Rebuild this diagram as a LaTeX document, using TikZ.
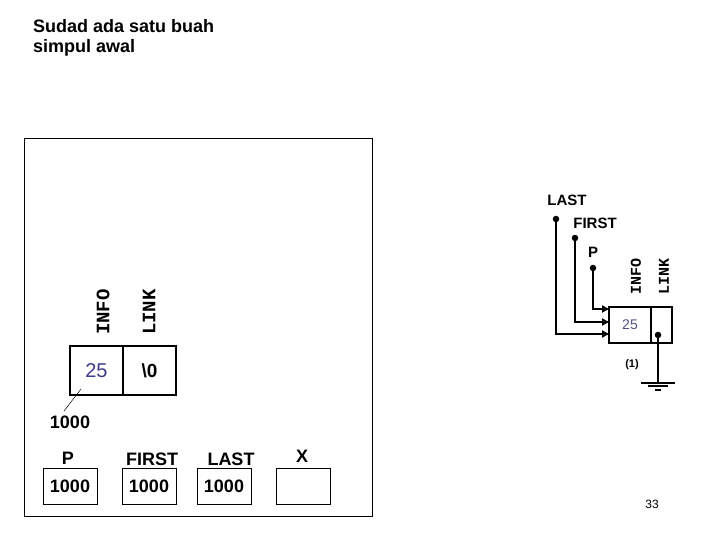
\documentclass[tikz,border=0pt]{standalone}
\usepackage{fontspec}
\setmainfont{Liberation Sans}
\newfontfamily\monofont{Liberation Mono}
\usetikzlibrary{arrows.meta}
\definecolor{infoblue}{RGB}{60,60,140}
\begin{document}
\begin{tikzpicture}[x=1pt,y=-1pt,
  cell/.style={draw,line width=2pt,minimum height=49pt,minimum width=53pt,inner sep=0pt},
  rcell/.style={draw,line width=2pt,minimum height=36pt,inner sep=0pt},
  vbox/.style={draw,line width=1pt,minimum height=36pt,minimum width=54pt,inner sep=0pt,font=\bfseries\fontsize{18}{18}\selectfont},
  blab/.style={font=\bfseries\fontsize{18}{18}\selectfont,anchor=base},
  vlab/.style={rotate=90,font=\monofont\bfseries\fontsize{19}{19}\selectfont,inner sep=0pt,anchor=west},
  rvlab/.style={rotate=90,font=\monofont\bfseries\fontsize{15}{15}\selectfont,inner sep=0pt,anchor=west},
  rlab/.style={font=\bfseries\fontsize{15}{15}\selectfont,anchor=base},
  dot/.style={circle,fill,inner sep=0pt,minimum size=6.5pt},
  conn/.style={line width=2.2pt},
  arr/.style={line width=2.2pt,-{Triangle[length=7pt,width=7pt]}}]
\useasboundingbox (0,0) rectangle (720,540);
% title
\node[anchor=base west,inner sep=0pt,font=\bfseries\fontsize{18}{18}\selectfont] (t1) at (33,33) {Sudad ada satu buah};
\node[anchor=base west,inner sep=0pt,font=\bfseries\fontsize{18}{18}\selectfont] (t2) at (33,53) {simpul awal};
% frame
\node[draw,line width=0.8pt,minimum width=348pt,minimum height=378pt,inner sep=0pt] (frame) at (198,327) {};
% left node
\node[cell,font=\fontsize{20}{20}\selectfont,text=infoblue] (info1) at (96.5,370.5) {25};
\node[cell,font=\bfseries\fontsize{19}{19}\selectfont] (link1) at (149.5,370.5) {\textbackslash 0};
\node[vlab] (linfo) at (103,335) {INFO};
\node[vlab] (llink) at (149,335) {LINK};
\node[blab] (addr) at (70,428) {1000};
\coordinate (ls) at (81,389);
\coordinate (le) at (64,411);
\draw[line width=0.5pt] (ls) -- (le);
% bottom variables
\node[vbox] (vP) at (70,486) {1000};
\node[vbox] (vF) at (149,486) {1000};
\node[vbox] (vL) at (224,486) {1000};
\node[vbox] (vX) at (303,486) {};
\node[blab] (lP) at (68,464) {P};
\node[blab] (lF) at (152,465) {FIRST};
\node[blab] (lL) at (231,465) {LAST};
\node[blab] (lX) at (302,462) {X};
% right side
\node[rcell,minimum width=42pt,font=\fontsize{14}{14}\selectfont,text=infoblue!70!gray] (rinfo) at (630,325) {25};
\node[rcell,minimum width=21pt] (rlink) at (661.5,325) {};
\node[rvlab] (rinfol) at (636,295) {INFO};
\node[rvlab] (rlinkl) at (664,295) {LINK};
\node[rlab] (rlast) at (567,206) {LAST};
\node[rlab] (rfirst) at (595,229) {FIRST};
\node[rlab] (rp) at (593,258) {P};
\node[dot] (dL) at (556,219) {};
\node[dot] (dF) at (575,238) {};
\node[dot] (dP) at (593,268) {};
\coordinate (eP) at (609,309);
\coordinate (eF) at (609,322);
\coordinate (eL) at (609,334);
\draw[arr] (dP) |- (eP);
\draw[arr] (dF) |- (eF);
\draw[arr] (dL) |- (eL);
\node[dot] (dLink) at (658,335) {};
\coordinate (g) at (658,383);
\draw[conn] (dLink) -- (g);
\draw[line width=2.2pt] ([xshift=-17pt]g) -- ([xshift=17pt]g);
\draw[line width=2.2pt] ([xshift=-10pt,yshift=-3pt]g) -- ([xshift=10pt,yshift=-3pt]g);
\draw[line width=2.2pt] ([xshift=-3pt,yshift=-7pt]g) -- ([xshift=3pt,yshift=-7pt]g);
\node[font=\bfseries\fontsize{11}{11}\selectfont,anchor=base] (one) at (632,367) {(1)};
\node[font=\fontsize{12}{12}\selectfont,anchor=base] (pg) at (652,508) {33};
\end{tikzpicture}
\end{document}
